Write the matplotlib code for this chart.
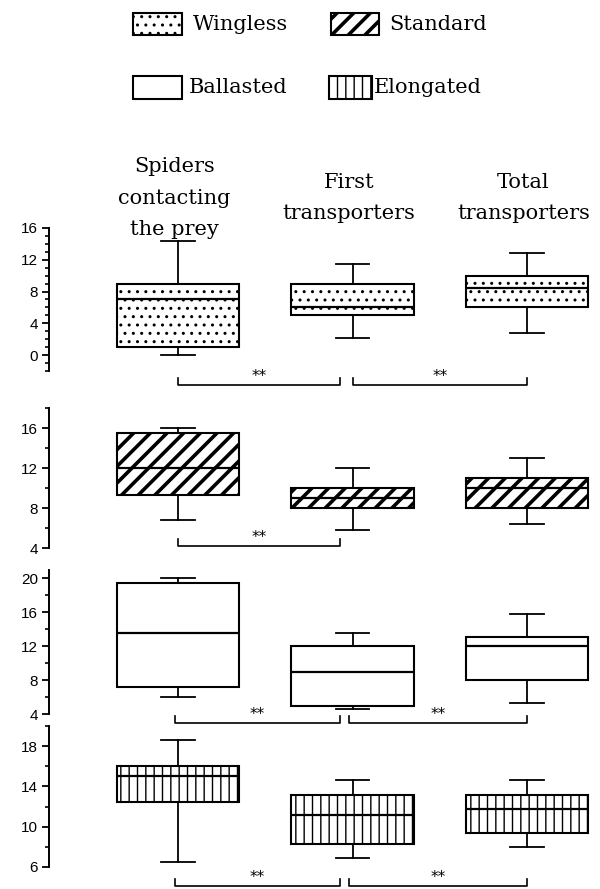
import matplotlib
matplotlib.use('Agg')
import matplotlib.pyplot as plt
from matplotlib.patches import Rectangle
from matplotlib.transforms import blended_transform_factory

W, H = 600, 889

categories = ['Spiders\ncontacting\nthe prey', 'First\ntransporters', 'Total\ntransporters']
groups = ['Wingless', 'Standard', 'Ballasted', 'Elongated']

# whisker low, Q1, median, Q3, whisker high (one row per category)
wingless = [[0.0, 1.0, 7.0, 9.0, 14.4], [2.2, 5.0, 6.0, 9.0, 11.5], [2.8, 6.0, 8.5, 10.0, 12.8]]
standard = [[6.8, 9.3, 12.0, 15.5, 16.0], [5.8, 8.0, 9.0, 10.0, 12.0], [6.4, 8.0, 10.0, 11.0, 13.0]]
ballasted = [[6.0, 7.2, 13.6, 19.5, 20.0], [4.6, 5.0, 9.0, 12.0, 13.6], [5.3, 8.0, 12.0, 13.1, 15.8]]
elongated = [[6.5, 12.5, 15.0, 16.0, 18.6], [6.9, 8.3, 11.2, 13.1, 14.6], [8.0, 9.4, 11.8, 13.1, 14.6]]

y_limits = [(-2, 16), (4, 18), (4, 21), (6, 20)]
y_ticks = [[0, 4, 8, 12, 16], [4, 8, 12, 16], [4, 8, 12, 16, 20], [6, 10, 14, 18]]
minor_step = [1, 2, 2, 2]

# significant differences (pairs of category indices), bracket level in data units
sig_pairs = [[(0, 1), (1, 2)], [(0, 1)], [(0, 1), (1, 2)], [(0, 1), (1, 2)]]
sig_level = [-3.8, 4.2, 2.9, 4.1]

hatches = ['..', '//', '', '||']
hatch_lw = [1.0, 2.6, 1.0, 1.0]

# panel placement in pixels: (top, bottom) of each y axis
panel_px = [(228, 371), (408, 548), (570, 714), (726, 867)]
AX_LEFT, AX_RIGHT = 49, 592

fig = plt.figure(figsize=(W / 100, H / 100), dpi=100)
plt.rcParams['hatch.color'] = 'black'

positions = [1, 2, 3]
xlim = (1 - (178 - AX_LEFT) / 174.5, 3 + (AX_RIGHT - 527) / 174.5)

data = [wingless, standard, ballasted, elongated]
axes = []
for k, (stats_rows, (top, bot)) in enumerate(zip(data, panel_px)):
    ax = fig.add_axes([AX_LEFT / W, 1 - bot / H, (AX_RIGHT - AX_LEFT) / W, (bot - top) / H])
    axes.append(ax)
    stats = [dict(whislo=r[0], q1=r[1], med=r[2], q3=r[3], whishi=r[4], label='')
             for r in stats_rows]
    bp = ax.bxp(stats, positions=positions, widths=0.70, capwidths=0.19,
                showfliers=False, patch_artist=True,
                boxprops=dict(facecolor='white', edgecolor='black', linewidth=1.5),
                medianprops=dict(color='black', linewidth=1.6),
                whiskerprops=dict(color='black', linewidth=1.3),
                capprops=dict(color='black', linewidth=1.3))
    for b in bp['boxes']:
        b.set_hatch(hatches[k])
        if hasattr(b, 'set_hatch_linewidth'):
            b.set_hatch_linewidth(hatch_lw[k])

    ax.set_xlim(*xlim)
    ax.set_ylim(*y_limits[k])
    ax.set_yticks(y_ticks[k])
    lo, hi = y_limits[k]
    ax.set_yticks([v for v in range(int(lo), int(hi) + 1, minor_step[k])
                   if v not in y_ticks[k]], minor=True)
    ax.set_xticks([])
    for s in ['top', 'right', 'bottom']:
        ax.spines[s].set_visible(False)
    ax.spines['left'].set_linewidth(1.4)
    ax.tick_params(axis='y', which='major', length=5, width=1.3, pad=3,
                   labelsize=11, direction='out')
    ax.tick_params(axis='y', which='minor', length=3, width=1.2, direction='out')
    for lab in ax.get_yticklabels():
        lab.set_fontfamily('Liberation Sans')
    ax.patch.set_alpha(0)

    # significance brackets
    px_per_unit = (bot - top) / (hi - lo)
    tick_h = 7 / px_per_unit
    y0 = sig_level[k]
    for i, (a, b) in enumerate(sig_pairs[k]):
        xa = positions[a] - (0.02 if k >= 2 else 0)
        xb = positions[b] - (0.07 if b == 1 else 0)
        ax.plot([xa, xa, xb, xb], [y0 + tick_h, y0, y0, y0 + tick_h],
                color='black', lw=1.2, clip_on=False)
        ax.annotate('**', xy=((xa + xb) / 2, y0), xytext=(0, 1),
                    textcoords='offset points', ha='center', va='bottom',
                    fontsize=11, family='DejaVu Sans', annotation_clip=False)

# column headers
tr = blended_transform_factory(axes[0].transData, fig.transFigure)
for pos, name in zip(positions, categories):
    fig.text(pos - 0.02, 1 - 198 / H, name, transform=tr, ha='center', va='center',
             fontsize=15, family='DejaVu Serif', linespacing=1.85)

# legend drawn as key boxes with labels
legend_px = [(133, 13, 49, 22), (331, 13, 48, 22), (133, 76, 49, 23), (329, 76, 43, 23)]
label_x = [193, 389, 189, 374]
for g, (x, y, w, h), lx, hch, hl in zip(groups, legend_px, label_x, hatches, hatch_lw):
    r = Rectangle((x / W, 1 - (y + h) / H), w / W, h / H, transform=fig.transFigure,
                  facecolor='white', edgecolor='black', linewidth=1.5, hatch=hch)
    if hasattr(r, 'set_hatch_linewidth'):
        r.set_hatch_linewidth(hl)
    fig.add_artist(r)
    fig.text(lx / W, 1 - (y + h / 2) / H, g, ha='left', va='center',
             fontsize=15, family='DejaVu Serif')

# original image is cropped at the right edge
fig.add_artist(Rectangle((AX_RIGHT / W, 0), (W - AX_RIGHT) / W, 1,
                         transform=fig.transFigure, color='white', zorder=20))

fig.savefig('out.png', dpi=100, facecolor='white')
